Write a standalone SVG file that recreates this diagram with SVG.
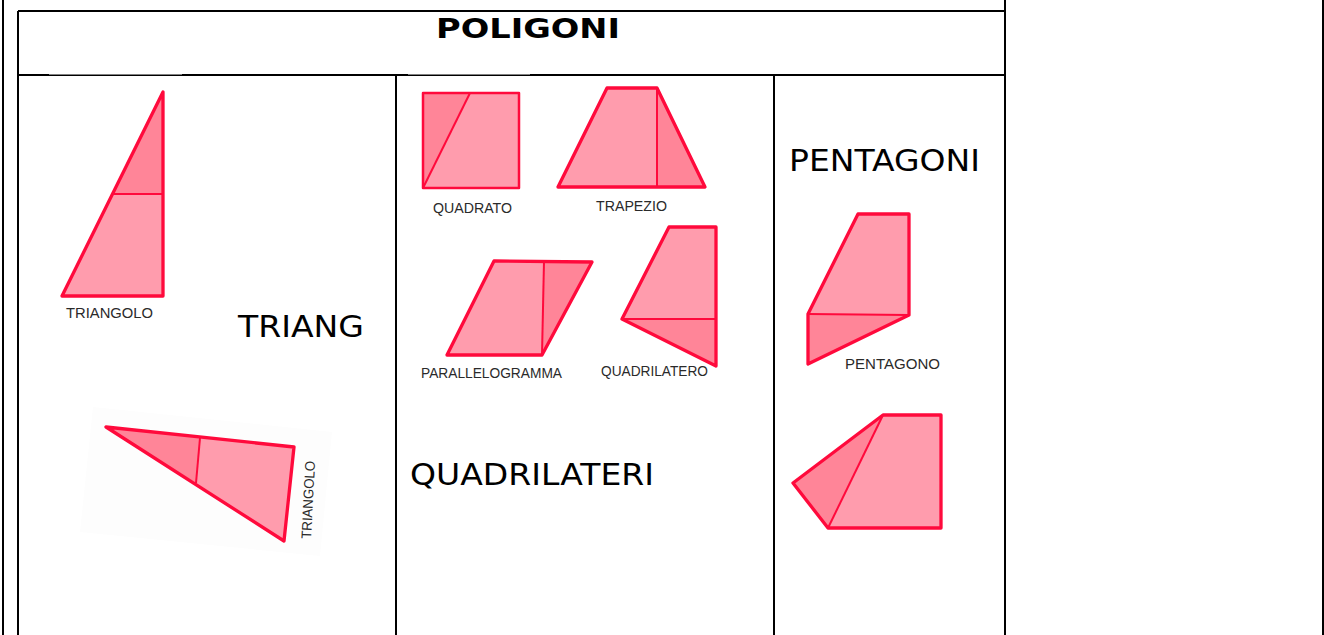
<svg xmlns="http://www.w3.org/2000/svg" width="1324" height="635" viewBox="0 0 1324 635">
<style>
.ln{stroke:#000;stroke-width:2;fill:none}
.lt{fill:#FF9CAD}
.dk{fill:#FF8598}
.st{fill:none;stroke:#FF0A3C;stroke-width:3.3;stroke-linejoin:round;stroke-linecap:round}
.in{fill:none;stroke:#FF0A3C;stroke-width:2}
.lab{font-family:"Liberation Sans",Arial,sans-serif;font-size:14px;fill:#2a2a2a}
.big{font-family:"DejaVu Sans",Verdana,sans-serif;font-size:30px;fill:#000}
.ttl{font-family:"DejaVu Sans",Verdana,sans-serif;font-size:27px;font-weight:bold;fill:#000}
</style>
<rect width="1324" height="635" fill="#fff"/>
<g id="table">
<line class="ln" x1="3" y1="0" x2="3" y2="635"/>
<line class="ln" x1="1323" y1="0" x2="1323" y2="635"/>
<line class="ln" x1="1005" y1="0" x2="1005" y2="635"/>
<line class="ln" x1="18" y1="11" x2="1005" y2="11"/>
<line class="ln" x1="18" y1="11" x2="18" y2="635"/>
<line class="ln" x1="18" y1="75" x2="1005" y2="75"/>
<line class="ln" x1="396" y1="75" x2="396" y2="635"/>
<line class="ln" x1="774" y1="75" x2="774" y2="635"/>
<rect x="49" y="73" width="133" height="1.5" fill="#fff"/>
<rect x="408" y="73" width="122" height="1.5" fill="#fff"/>
</g>
<g id="title"><text class="ttl" x="436" y="38" textLength="184" lengthAdjust="spacingAndGlyphs">POLIGONI</text></g>
<g id="triangolo1">
<polygon class="lt" points="62,296 112,194 163,194 163,296"/>
<polygon class="dk" points="112,194 163,92 163,194"/>
<line class="in" x1="112" y1="194" x2="163" y2="194"/>
<polygon class="st" points="62,296 163,92 163,296"/>
<text class="lab" x="66" y="318" textLength="87" lengthAdjust="spacingAndGlyphs">TRIANGOLO</text>
</g>
<g id="triang-label"><text class="big" x="238" y="337" textLength="126" lengthAdjust="spacingAndGlyphs">TRIANG</text></g>
<g id="triangolo2">
<polygon points="93,407 332,432 320,556 80,532" fill="#fdfdfd"/>
<polygon class="dk" points="106,427 200,438 196,483"/>
<polygon class="lt" points="200,438 294,447 284,541 196,483"/>
<line class="in" x1="200" y1="438" x2="196" y2="483"/>
<polygon class="st" points="106,427 294,447 284,541"/>
<text class="lab" transform="translate(311,539) rotate(-87)" textLength="78" lengthAdjust="spacingAndGlyphs">TRIANGOLO</text>
</g>
<g id="quadrato">
<polygon class="dk" points="423,93 470,93 423,188"/>
<polygon class="lt" points="470,93 519,93 519,188 423,188"/>
<line class="in" x1="470" y1="93" x2="423" y2="188"/>
<rect class="st" x="423" y="93" width="96" height="95" style="stroke-width:2.5"/>
<text class="lab" x="433" y="213" textLength="79" lengthAdjust="spacingAndGlyphs">QUADRATO</text>
</g>
<g id="trapezio">
<polygon class="lt" points="558,187 607,88 657,88 657,187"/>
<polygon class="dk" points="657,88 705,187 657,187"/>
<line class="in" x1="657" y1="88" x2="657" y2="187"/>
<polygon class="st" points="558,187 607,88 657,88 705,187"/>
<text class="lab" x="596" y="211" textLength="71" lengthAdjust="spacingAndGlyphs">TRAPEZIO</text>
</g>
<g id="parallelogramma">
<polygon class="lt" points="447,355 494,261 544,261 542,355"/>
<polygon class="dk" points="544,261 592,262 542,355"/>
<line class="in" x1="544" y1="261" x2="542" y2="355"/>
<polygon class="st" points="447,355 494,261 592,262 542,355"/>
<text class="lab" x="421" y="378" textLength="141" lengthAdjust="spacingAndGlyphs">PARALLELOGRAMMA</text>
</g>
<g id="quadrilatero">
<polygon class="lt" points="622,319 669,227 716,227 716,319"/>
<polygon class="dk" points="622,319 716,319 716,366"/>
<line class="in" x1="622" y1="319" x2="716" y2="319"/>
<polygon class="st" points="622,319 669,227 716,227 716,366"/>
<text class="lab" x="601" y="376" textLength="107" lengthAdjust="spacingAndGlyphs">QUADRILATERO</text>
</g>
<g id="quadrilateri-label"><text class="big" x="410" y="485" textLength="244" lengthAdjust="spacingAndGlyphs">QUADRILATERI</text></g>
<g id="pentagoni-label"><text class="big" x="789" y="171" textLength="191" lengthAdjust="spacingAndGlyphs">PENTAGONI</text></g>
<g id="pentagono1">
<polygon class="lt" points="808,314 858,214 909,214 909,315"/>
<polygon class="dk" points="808,314 909,315 808,364"/>
<line class="in" x1="808" y1="314" x2="909" y2="315"/>
<polygon class="st" points="808,314 858,214 909,214 909,315 808,364"/>
<text class="lab" x="845" y="369" textLength="95" lengthAdjust="spacingAndGlyphs">PENTAGONO</text>
</g>
<g id="pentagono2">
<polygon class="dk" points="883,415 793,483 828,528"/>
<polygon class="lt" points="883,415 941,415 941,528 828,528"/>
<line class="in" x1="883" y1="415" x2="828" y2="528"/>
<polygon class="st" points="883,415 941,415 941,528 828,528 793,483"/>
</g>
</svg>
